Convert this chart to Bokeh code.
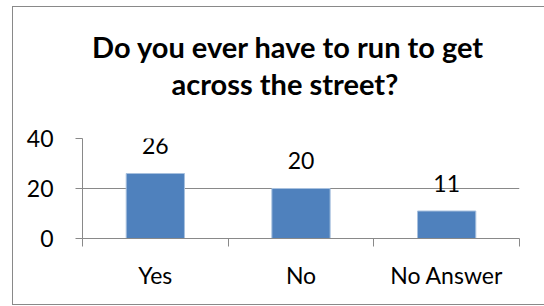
from bokeh.plotting import figure
from bokeh.layouts import column
from bokeh.models import Range1d, FixedTicker, ColumnDataSource
from bokeh.core.properties import value
from bokeh.embed import file_html
from bokeh.resources import INLINE

categories = ["Yes", "No", "No Answer"]
counts = [26, 20, 11]
y_ticks = [0, 20, 40]
title_lines = ["Do you ever have to run to get", "across the street?"]

FONT = "Lato"
GRAY = "#898989"
BAR = "#4F81BD"
W = 531
TOP_H = 111

# ---- title strip (pixel-like coordinates, y measured from the top) ----
tp = figure(width=W, height=TOP_H, output_backend="svg", toolbar_location=None,
            x_range=Range1d(0, W), y_range=Range1d(TOP_H, 0),
            x_axis_type=None, y_axis_type=None, min_border=0)
tp.outline_line_color = None
tp.xgrid.visible = False
tp.ygrid.visible = False
tp.background_fill_color = "white"
tp.border_fill_color = "white"
tsrc = ColumnDataSource(dict(x=[250, 246], y=[39, 76], text=title_lines))
tp.text(x="x", y="y", text="text", source=tsrc, text_align="center",
        text_baseline="alphabetic", text_font=value(FONT),
        text_font_size="29px", text_font_style="bold", text_color="black")

# ---- chart ----
xs = [i + 0.5 for i in range(len(categories))]
src = ColumnDataSource(dict(x=xs, top=counts, label=[str(c) for c in counts]))

p = figure(width=W, height=297 - TOP_H, output_backend="svg", toolbar_location=None,
           x_range=Range1d(0, len(categories)), y_range=Range1d(0, 40),
           min_border_left=69, min_border_right=25, min_border_top=20,
           min_border_bottom=66)
p.outline_line_color = None
p.background_fill_color = "white"
p.border_fill_color = "white"

p.vbar(x="x", top="top", width=0.4, source=src, fill_color=BAR,
       line_color="#A7C0DE", line_width=1)
p.text(x="x", y="top", text="label", source=src, text_align="center",
       text_baseline="alphabetic", y_offset=-28, text_font=value(FONT),
       text_font_size="23px", text_color="black")

# grid
p.xgrid.visible = False
p.ygrid.ticker = FixedTicker(ticks=y_ticks)
p.ygrid.grid_line_color = GRAY
p.ygrid.grid_line_width = 1

# y axis
ya = p.yaxis[0]
ya.ticker = FixedTicker(ticks=y_ticks)
ya.axis_line_color = GRAY
ya.major_tick_line_color = GRAY
ya.major_tick_out = 7
ya.major_tick_in = 0
ya.minor_tick_line_color = None
ya.major_label_standoff = 22
ya.major_label_text_font = FONT
ya.major_label_text_font_size = "23px"
ya.major_label_text_color = "black"

# x axis
xa = p.xaxis[0]
xa.ticker = FixedTicker(ticks=xs, minor_ticks=[0, 1, 2, 3])
xa.major_label_overrides = {x: c for x, c in zip(xs, categories)}
xa.axis_line_color = GRAY
xa.major_tick_out = 0
xa.major_tick_in = 0
xa.major_tick_line_color = None
xa.minor_tick_line_color = GRAY
xa.minor_tick_out = 8
xa.minor_tick_in = 0
xa.major_label_standoff = 14
xa.major_label_text_font = FONT
xa.major_label_text_font_size = "23px"
xa.major_label_text_color = "black"

layout = column(tp, p, spacing=0)
layout.styles = {"position": "absolute", "left": "12px", "top": "6px",
                 "border-left": f"1px solid {GRAY}", "border-top": f"1px solid {GRAY}",
                 "border-bottom": f"1px solid {GRAY}", "background": "white"}

open("out.html", "w").write(file_html(layout, INLINE))
